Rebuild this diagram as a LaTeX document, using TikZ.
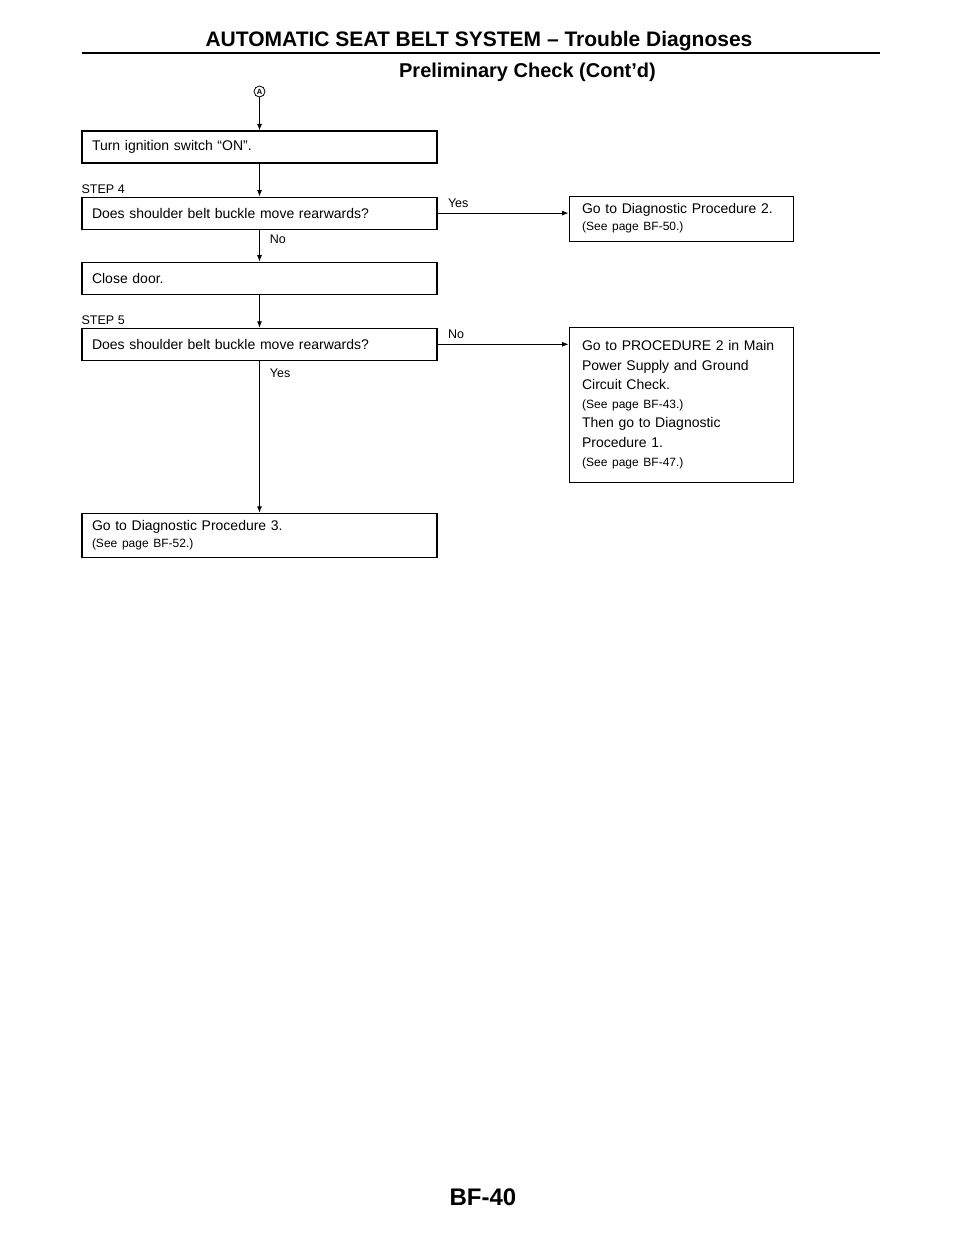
\documentclass[tikz,border=0pt]{standalone}
\usepackage{fontspec}
\setmainfont{Liberation Sans}
\usetikzlibrary{arrows.meta,positioning}

\newcommand\seefont{\fontsize{12}{14}\selectfont}

\begin{document}
\begin{tikzpicture}
  [x=1pt,y=1pt,
   stepbox/.style={draw,line width=1.1pt,minimum height=32pt,text width=335pt,
     inner xsep=10pt,align=left,font=\fontsize{14}{17}\selectfont},
   resbox/.style={draw,line width=1.1pt,text width=198pt,inner xsep=13pt,
     align=left,anchor=north west,font=\fontsize{14}{17}\selectfont},
   lbl/.style={font=\fontsize{12.5}{14}\selectfont,inner sep=0pt},
   flow/.style={->,>={Latex[length=6.5pt,width=5pt]},line width=0.9pt}]

  \useasboundingbox (0,0) rectangle (960,-1242);

  % page heading
  \node[font=\fontsize{21}{24}\selectfont\bfseries,anchor=base] (head) at (479,-46)
    {AUTOMATIC SEAT BELT SYSTEM -- Trouble Diagnoses};
  \draw[line width=2.5pt] (82,-53) -- (880,-53);
  \node[font=\fontsize{20}{24}\selectfont\bfseries,anchor=base] (subhead) at (527.5,-77)
    {Preliminary Check (Cont'd)};

  \node[circle,draw,line width=0.8pt,minimum size=11pt,inner sep=0pt,
    font=\fontsize{7.5}{7.5}\selectfont\bfseries] (conA) at (259.5,-91.5) {A};

  % left column
  \node[stepbox] (turn)  at (259.5,-147)       {Turn ignition switch “ON”.};
  \node[stepbox] (step4) [below=33pt of turn]  {Does shoulder belt buckle move rearwards?};
  \node[stepbox] (close) [below=32pt of step4] {Close door.};
  \node[stepbox] (step5) [below=33pt of close] {Does shoulder belt buckle move rearwards?};
  \node[stepbox,minimum height=44pt] (diag3) [below=152pt of step5]
    {Go to Diagnostic Procedure 3.\\{\seefont (See page BF-52.)}};

  \node[lbl,anchor=base west] (s4) at ([yshift=3pt]step4.north west) {STEP 4};
  \node[lbl,anchor=base west] (s5) at ([yshift=3pt]step5.north west) {STEP 5};

  % right column
  \node[resbox,minimum height=45pt] (diag2) at ([xshift=131pt,yshift=1pt]step4.north east)
    {Go to Diagnostic Procedure 2.\\{\seefont (See page BF-50.)}};
  \node[resbox,minimum height=155pt,font=\fontsize{14}{19.3}\selectfont] (mainpwr)
    at ([xshift=131pt,yshift=1pt]step5.north east)
    {Go to PROCEDURE 2 in Main\\Power Supply and Ground\\Circuit Check.\\
     {\seefont (See page BF-43.)}\\Then go to Diagnostic\\Procedure 1.\\
     {\seefont (See page BF-47.)}};

  \draw[flow] (conA) -- (turn);
  \draw[flow] (turn) -- (step4);
  \draw[flow] (step4) -- node[lbl,right=10pt,pos=0.3] {No} (close);
  \draw[flow] (close) -- (step5);
  \draw[flow] (step5) -- node[lbl,right=10pt,pos=0.08] {Yes} (diag3);
  \draw[flow] (step4.east) -- node[lbl,anchor=base west,pos=0,xshift=10pt,yshift=6pt] {Yes}
    (step4.east -| diag2.west);
  \draw[flow] (step5.east) -- node[lbl,anchor=base west,pos=0,xshift=10pt,yshift=6pt] {No}
    (step5.east -| mainpwr.west);

  \node[font=\fontsize{24}{27}\selectfont\bfseries,anchor=base] (pageno) at (483,-1205) {BF-40};
\end{tikzpicture}
\end{document}
